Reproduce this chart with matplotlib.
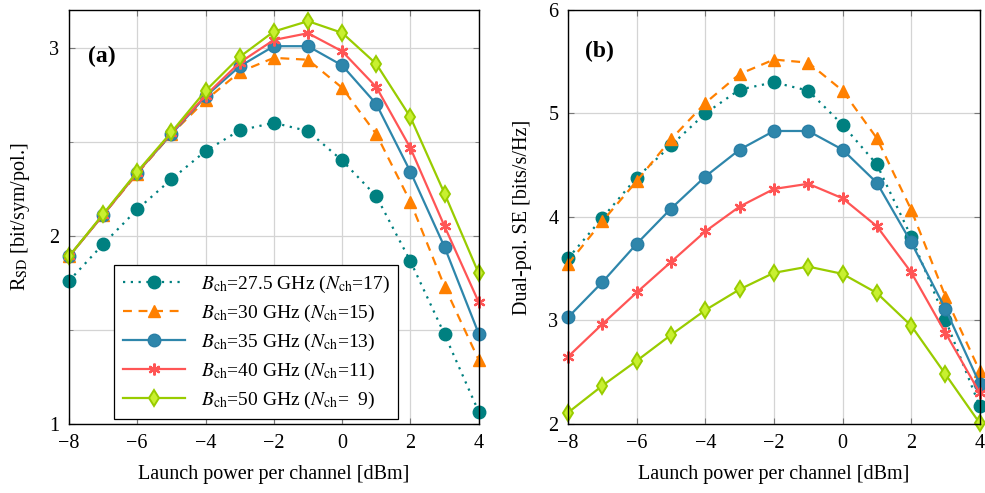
import numpy as np
import matplotlib
matplotlib.use('Agg')
import matplotlib.pyplot as plt
from matplotlib.ticker import MultipleLocator

plt.rcParams['font.family'] = ['Liberation Serif', 'DejaVu Serif']
plt.rcParams['mathtext.fontset'] = 'stix'
plt.rcParams['font.size'] = 14

power = [-8, -7, -6, -5, -4, -3, -2, -1, 0, 1, 2, 3, 4]

labels = [r'$B_{\mathrm{ch}}$=27.5 GHz ($N_{\mathrm{ch}}$=17)',
          r'$B_{\mathrm{ch}}$=30 GHz ($N_{\mathrm{ch}}$=15)',
          r'$B_{\mathrm{ch}}$=35 GHz ($N_{\mathrm{ch}}$=13)',
          r'$B_{\mathrm{ch}}$=40 GHz ($N_{\mathrm{ch}}$=11)',
          r'$B_{\mathrm{ch}}$=50 GHz ($N_{\mathrm{ch}}$=  9)']

# (a) R_SD [bit/sym/pol.]
rsd_275 = [1.76, 1.955, 2.14, 2.30, 2.45, 2.56, 2.60, 2.556, 2.40, 2.21, 1.865, 1.476, 1.065]
rsd_30 = [1.89, 2.11, 2.33, 2.54, 2.72, 2.87, 2.945, 2.935, 2.786, 2.54, 2.18, 1.73, 1.34]
rsd_35 = [1.89, 2.11, 2.335, 2.54, 2.74, 2.90, 3.007, 3.007, 2.905, 2.70, 2.34, 1.94, 1.48]
rsd_40 = [1.89, 2.11, 2.335, 2.545, 2.745, 2.92, 3.04, 3.076, 2.98, 2.79, 2.466, 2.05, 1.647]
rsd_50 = [1.89, 2.115, 2.34, 2.55, 2.77, 2.95, 3.085, 3.14, 3.078, 2.913, 2.63, 2.224, 1.80]

# (b) dual-pol SE [bits/s/Hz]
se_275 = [3.60, 3.99, 4.38, 4.69, 5.00, 5.23, 5.30, 5.22, 4.89, 4.507, 3.81, 3.007, 2.17]
se_30 = [3.546, 3.958, 4.345, 4.75, 5.10, 5.38, 5.52, 5.49, 5.22, 4.76, 4.07, 3.23, 2.51]
se_35 = [3.03, 3.37, 3.74, 4.08, 4.39, 4.65, 4.83, 4.83, 4.65, 4.33, 3.755, 3.11, 2.387]
se_40 = [2.65, 2.965, 3.27, 3.565, 3.86, 4.10, 4.27, 4.32, 4.18, 3.91, 3.465, 2.88, 2.30]
se_50 = [2.11, 2.37, 2.61, 2.86, 3.10, 3.30, 3.46, 3.52, 3.45, 3.265, 2.95, 2.48, 2.007]

colors = ['#008080', '#ff8000', '#2e86ab', '#ff5555', '#99cc00']
styles = [dict(linestyle=(0, (1, 2.5)), marker='o', markersize=9, mfc=colors[0], mec=colors[0]),
          dict(linestyle=(0, (4, 3)), marker='^', markersize=9, mfc=colors[1], mec=colors[1]),
          dict(linestyle='-', marker='o', markersize=9, mfc=colors[2], mec='#2a7fa6'),
          dict(linestyle='-', marker=(6, 2, 0), markersize=8.5, mfc=colors[3], mec=colors[3], mew=1.6),
          dict(linestyle='-', marker='d', markersize=8, mfc='#c8f030', mec=colors[4], mew=1.4)]


def style_axes(ax):
    ax.set_xlim(-8, 4)
    ax.xaxis.set_major_locator(MultipleLocator(2))
    ax.grid(True, which='both', color='#d4d4d4', linewidth=0.9)
    ax.set_axisbelow(True)
    ax.tick_params(which='both', direction='in', top=True, right=True, length=4,
                   color='#777777', pad=7, labelsize=14.5)
    ax.tick_params(which='minor', length=3)
    ax.set_xlabel('Launch power per channel [dBm]', labelpad=9, fontsize=14.5)
    for s in ax.spines.values():
        s.set_linewidth(1.0)


fig = plt.figure(figsize=(9.85, 4.93), dpi=100)
ax1 = fig.add_axes([0.070, 0.140, 0.416, 0.840])
ax2 = fig.add_axes([0.5767, 0.140, 0.418, 0.840])

for i, ys in enumerate([rsd_275, rsd_30, rsd_35, rsd_40, rsd_50]):
    ax1.plot(power, ys, color=colors[i], linewidth=1.6, label=labels[i], clip_on=False, **styles[i])
for i, ys in enumerate([se_275, se_30, se_35, se_40, se_50]):
    ax2.plot(power, ys, color=colors[i], linewidth=1.6, label=labels[i], clip_on=False, **styles[i])

style_axes(ax1)
ax1.set_ylim(1, 3.2)
ax1.yaxis.set_major_locator(MultipleLocator(1))
ax1.yaxis.set_minor_locator(MultipleLocator(0.5))
ax1.xaxis.set_minor_locator(MultipleLocator(2))
ax1.set_ylabel(r'R$_{\mathrm{SD}}$ [bit/sym/pol.]', labelpad=12, fontsize=14.5)
ax1.text(0.046, 0.874, '(a)', transform=ax1.transAxes, fontsize=17, fontweight='bold')
leg = ax1.legend(loc='lower left', bbox_to_anchor=(0.11, 0.011), borderaxespad=0,
                 fancybox=False, edgecolor='black', framealpha=1, fontsize=14,
                 handlelength=3.2, labelspacing=0.4, borderpad=0.45)
leg.get_frame().set_linewidth(0.9)

style_axes(ax2)
ax2.set_ylim(2, 6)
ax2.yaxis.set_major_locator(MultipleLocator(1))
ax2.set_ylabel('Dual-pol. SE [bits/s/Hz]', labelpad=12, fontsize=14.5)
ax2.text(0.041, 0.886, '(b)', transform=ax2.transAxes, fontsize=17, fontweight='bold')

fig.savefig('out.png', dpi=100)
